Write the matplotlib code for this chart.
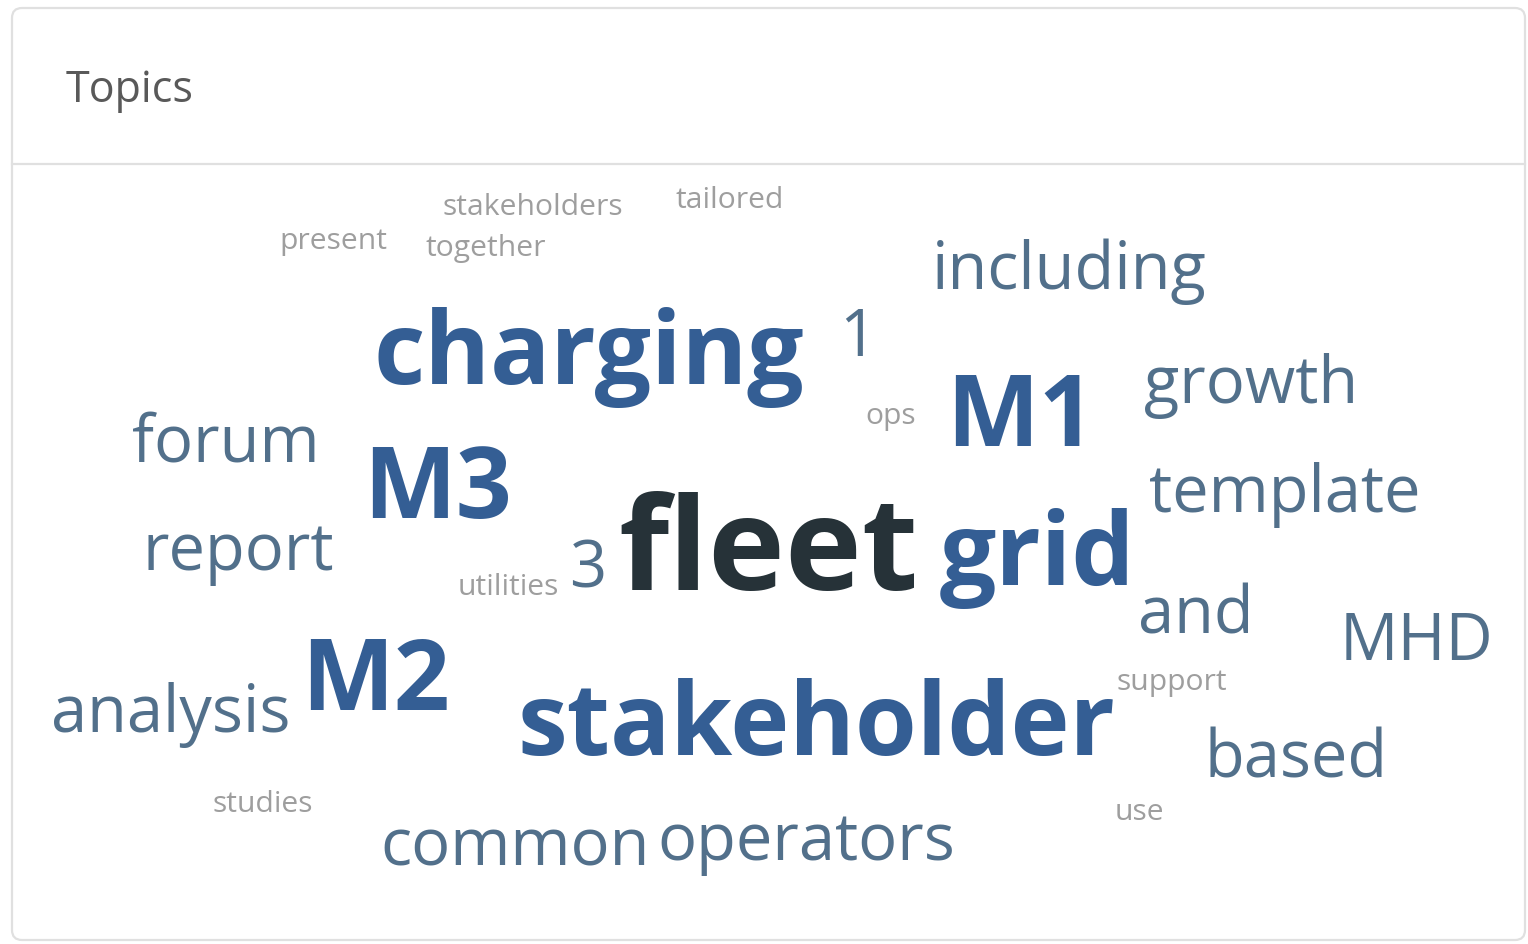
import numpy as np
import matplotlib
matplotlib.use("Agg")
import matplotlib.pyplot as plt
from matplotlib.patches import FancyBboxPatch

# word cloud data: word, weight
words = ["fleet", "charging", "stakeholder", "grid", "M1", "M2", "M3",
         "including", "growth", "template", "and", "MHD", "based",
         "forum", "report", "analysis", "common", "operators", "1", "3",
         "stakeholders", "tailored", "present", "together", "ops",
         "utilities", "support", "studies", "use"]
weights = [12, 9, 9, 9, 8.8, 8.8, 8.8,
           5, 5, 5, 5, 5, 5,
           5, 5, 5, 5, 5, 5, 5,
           2, 2, 2, 2, 2,
           2, 2, 2, 2]

# layout (left edge, baseline) in pixel units
word_x = [618, 373, 517, 940, 946, 301, 363,
          932, 1144, 1149, 1138, 1340, 1204,
          132, 143, 51, 380, 657, 839, 569,
          442, 676, 279, 425, 865,
          458, 1116, 212, 1115]
word_y = [590, 384, 755, 585, 446, 710, 518,
          289, 403, 512, 633, 660, 777,
          462, 570, 732, 866, 860, 356, 588,
          215, 208, 249, 256, 424,
          595, 690, 812, 820]

W, H = 1528, 944
fig = plt.figure(figsize=(W / 100, H / 100), dpi=100)
ax = fig.add_axes([0, 0, 1, 1])
ax.set_xlim(0, W)
ax.set_ylim(H, 0)
ax.axis("off")

# card frame
card = FancyBboxPatch((12, 8), 1513, 932, boxstyle="round,pad=0,rounding_size=10",
                      fc="white", ec="#e0e0e0", lw=1.6)
ax.add_patch(card)
ax.plot([12, 1525], [164, 164], color="#e0e0e0", lw=1.6)
ax.text(66, 102, "Topics", fontsize=31, family="Open Sans", color="#595959",
        ha="left", va="baseline")


def style(w):
    px = np.interp(w, [2, 5, 9, 12], [30, 65, 100, 130])
    if w >= 12:
        return px, "#263238", "bold"
    if w >= 8:
        return px, "#345e94", "bold"
    if w >= 5:
        return px, "#52708b", "normal"
    return px, "#9e9e9e", "normal"


for word, w, x, y in zip(words, weights, word_x, word_y):
    px, col, fw = style(w)
    ax.text(x, y, word, fontsize=px * 0.72, family="Open Sans", fontweight=fw,
            color=col, ha="left", va="baseline")

fig.savefig("out.png", dpi=100)
